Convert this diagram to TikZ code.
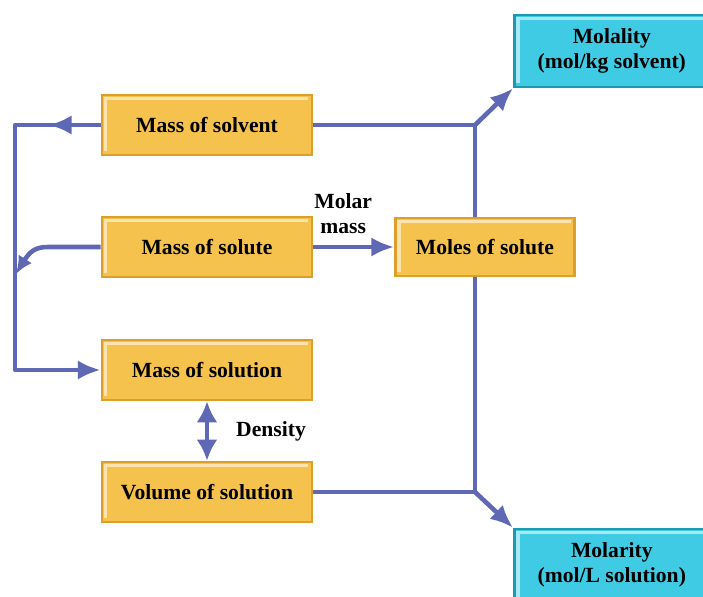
\documentclass[tikz,border=0pt]{standalone}
\usepackage{fontspec}
\setmainfont{Liberation Serif}
\usetikzlibrary{arrows.meta,
                backgrounds,
                bending,
                positioning
            }

\definecolor{boxorange}{HTML}{F6C24E}
\definecolor{boxedge}{HTML}{DE9E2A}
\definecolor{boxcyan}{HTML}{3FCBE3}
\definecolor{cyanedge}{HTML}{1E98B0}
\definecolor{flowblue}{HTML}{5F68B5}

\tikzset{
    qtybox/.style={draw=boxedge, fill=boxorange, line width=1.5pt,
        minimum width=4.2cm, minimum height=1.2cm,
        font=\fontsize{12.3}{14}\selectfont\bfseries,
        path picture={\draw[line width=2pt, boxorange!45!white]
            ([shift={(2pt,2pt)}]path picture bounding box.south west)
            |- ([shift={(-2pt,-2pt)}]path picture bounding box.north east);}},
    unitbox/.style={draw=cyanedge, fill=boxcyan, line width=1.5pt,
        minimum width=3.9cm, minimum height=1.44cm, align=center,
        font=\fontsize{12.3}{14}\selectfont\bfseries,
        path picture={\draw[line width=2pt, boxcyan!45!white]
            ([shift={(2pt,2pt)}]path picture bounding box.south west)
            |- ([shift={(-2pt,-2pt)}]path picture bounding box.north east);}},
    flow/.style={draw=flowblue, line width=2.6pt, line join=round},
    tip/.style={-{Latex[length=13pt, width=11pt]}},
    label/.style={font=\fontsize{12.3}{14}\selectfont\bfseries}
}

\begin{document}
\begin{tikzpicture}[x=0.02cm, y=-0.02cm]
            \useasboundingbox (0, 0) rectangle (703, 597);
            \node[qtybox] (solvent) at (207, 125) {Mass of solvent};
            \node[qtybox] (solute) at (207, 247) {Mass of solute};
            \node[qtybox, minimum width=3.58cm, minimum height=1.16cm] (moles) at (485, 247) {Moles of solute};
            \node[qtybox] (solution) at (207, 370) {Mass of solution};
            \node[qtybox] (volume) at (207, 492) {Volume of solution};
            \node[unitbox, anchor=west] (molality) at (513, 51) {Molality\\(mol/kg solvent)};
            \node[unitbox, anchor=west] (molarity) at (513, 565) {Molarity\\(mol/L solution)};
            \coordinate (leftrail) at (15, 125);
            \coordinate (topjoin) at (475, 125);
            \coordinate (botjoin) at (475, 492);
            \begin{scope}[on background layer]
                \draw[flow] (topjoin) -- (botjoin);
            \end{scope}
            \draw[flow, tip] (solvent.west) -- ++(-52, 0);
            \draw[flow, tip] (solvent.west) -- (leftrail) |- (solution.west);
            \draw[flow, -{Latex[length=10pt, width=9pt, bend]}] (solute.west) -- (48, 247) .. controls (30, 247) and (27, 256) .. (16, 274);
            \draw[flow] (solvent.east) -- (topjoin);
            \draw[flow, tip] (topjoin) -- (molality.south west);
            \draw[flow] (volume.east) -- (botjoin);
            \draw[flow, tip] (botjoin) -- (molarity.north west);
            \draw[flow, tip] (solute) -- (moles) node[midway, above=3pt, xshift=-6, align=center, label] {Molar\\mass};
            \draw[flow, {Latex[length=12pt, width=12pt]}-{Latex[length=12pt, width=12pt]}] (solution) -- (volume) node[midway, right=12pt, label] {Density};
        \end{tikzpicture}
\end{document}
